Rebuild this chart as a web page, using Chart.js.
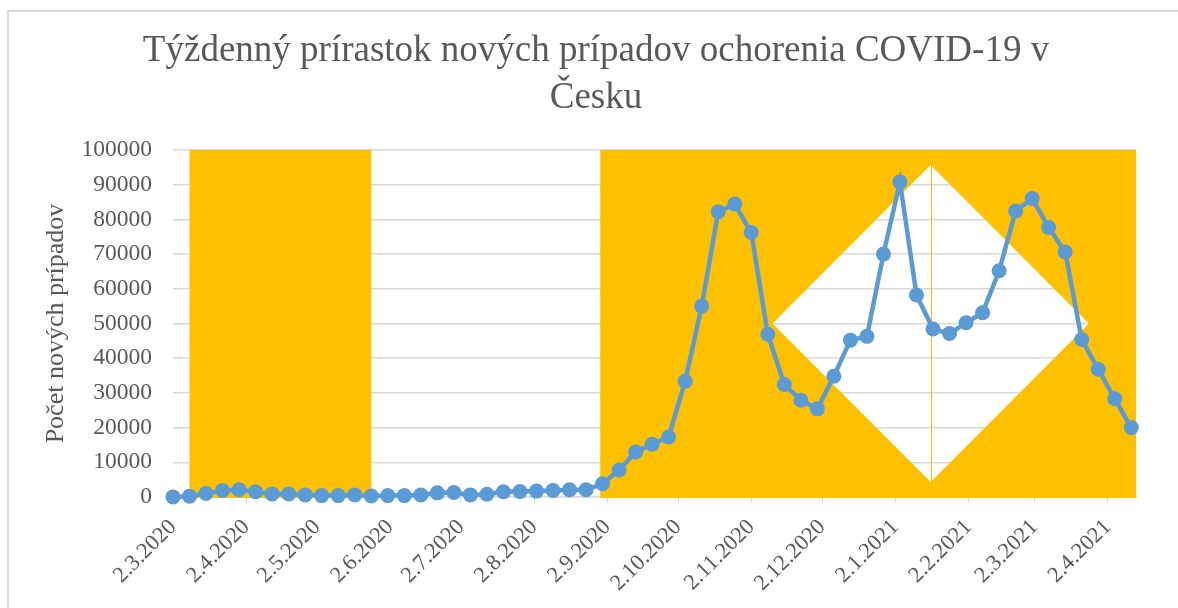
<!DOCTYPE html>
<html>
<head>
<meta charset="utf-8">
<script src="https://cdn.jsdelivr.net/npm/chart.js@4.4.1/dist/chart.umd.min.js"></script>
<style>
  html, body { margin: 0; padding: 0; background: #fff; overflow: hidden; }
  #frame { position: absolute; left: 7px; top: 10px; width: 1300px; height: 700px; border: 2px solid #d9d9d9; }
  #graf { position: absolute; left: 0; top: 0; }
</style>
</head>
<body>
<div id="frame"></div>
<canvas id="graf" width="1178" height="608"></canvas>
<script>
// týždne (pondelky) a počty nových prípadov
const weeks = [
  "2.3.2020", "9.3.2020", "16.3.2020", "23.3.2020", "30.3.2020", "6.4.2020", "13.4.2020", "20.4.2020",
  "27.4.2020", "4.5.2020", "11.5.2020", "18.5.2020", "25.5.2020", "1.6.2020", "8.6.2020", "15.6.2020",
  "22.6.2020", "29.6.2020", "6.7.2020", "13.7.2020", "20.7.2020", "27.7.2020", "3.8.2020", "10.8.2020",
  "17.8.2020", "24.8.2020", "31.8.2020", "7.9.2020", "14.9.2020", "21.9.2020", "28.9.2020", "5.10.2020",
  "12.10.2020", "19.10.2020", "26.10.2020", "2.11.2020", "9.11.2020", "16.11.2020", "23.11.2020", "30.11.2020",
  "7.12.2020", "14.12.2020", "21.12.2020", "28.12.2020", "4.1.2021", "11.1.2021", "18.1.2021", "25.1.2021",
  "1.2.2021", "8.2.2021", "15.2.2021", "22.2.2021", "1.3.2021", "8.3.2021", "15.3.2021", "22.3.2021",
  "29.3.2021", "5.4.2021", "12.4.2021"
];
const cases = [
  30, 250, 1000, 1900, 2100, 1500, 900, 900,
  600, 400, 400, 600, 300, 400, 400, 600,
  1200, 1300, 600, 800, 1500, 1600, 1700, 1900,
  2100, 2100, 3800, 7800, 13000, 15200, 17300, 33400,
  55000, 82200, 84400, 76200, 46900, 32400, 27900, 25400,
  34800, 45200, 46300, 70000, 90800, 58200, 48400, 47100,
  50200, 53100, 65200, 82400, 86000, 77700, 70600, 45400,
  36800, 28300, 20000
];
const monthTicks = [
  "2.3.2020", "2.4.2020", "2.5.2020", "2.6.2020", "2.7.2020", "2.8.2020", "2.9.2020",
  "2.10.2020", "2.11.2020", "2.12.2020", "2.1.2021", "2.2.2021", "2.3.2021", "2.4.2021"
];
const yTicks = [0, 10000, 20000, 30000, 40000, 50000, 60000, 70000, 80000, 90000, 100000];

// podfarbené obdobia (v dátumoch) a biely kosoštvorec
const shadedPeriods = [["9.3.2020", "25.5.2020"], ["30.8.2020", "14.4.2021"]];
const diamond = { center: "17.1.2021", halfDays: 67, mid: 50000, half: 45700 };

const dayOf = s => {
  const [d, m, y] = s.split(".").map(Number);
  return Math.round((Date.UTC(y, m - 1, d) - Date.UTC(2020, 2, 2)) / 86400000);
};
const points = weeks.map((w, i) => ({ x: dayOf(w), y: cases[i] }));
const tickDays = monthTicks.map(dayOf);
const xMax = dayOf("14.4.2021");

const textColor = "#595959";
const gridColor = "#d9d9d9";
const serif = "'Liberation Serif', 'Times New Roman', serif";

const background = {
  id: "background",
  beforeDatasetsDraw(chart) {
    const { ctx, chartArea: a, scales: { x, y } } = chart;
    ctx.save();
    ctx.beginPath();
    shadedPeriods.forEach(([s, e]) => {
      const x1 = x.getPixelForValue(dayOf(s));
      const x2 = x.getPixelForValue(Math.min(dayOf(e), xMax));
      ctx.rect(x1, a.top, x2 - x1, a.bottom - a.top + 1);
    });
    const cx = x.getPixelForValue(dayOf(diamond.center));
    const l = x.getPixelForValue(dayOf(diamond.center) - diamond.halfDays);
    const r = x.getPixelForValue(dayOf(diamond.center) + diamond.halfDays);
    const cy = y.getPixelForValue(diamond.mid);
    const t = y.getPixelForValue(diamond.mid + diamond.half);
    const b = y.getPixelForValue(diamond.mid - diamond.half);
    ctx.moveTo(cx, t);
    ctx.lineTo(r, cy);
    ctx.lineTo(cx, b);
    ctx.lineTo(l, cy);
    ctx.closePath();
    ctx.fillStyle = "#ffc000";
    ctx.fill("evenodd");
    ctx.beginPath();
    ctx.moveTo(Math.round(cx) + 0.5, t);
    ctx.lineTo(Math.round(cx) + 0.5, b);
    ctx.strokeStyle = "#ffc000";
    ctx.lineWidth = 1;
    ctx.stroke();
    ctx.restore();
  }
};

new Chart(document.getElementById("graf").getContext("2d"), {
  type: "line",
  data: {
    datasets: [{
      label: "Nové prípady",
      data: points,
      borderColor: "#5b9bd5",
      backgroundColor: "#5b9bd5",
      borderWidth: 4.5,
      pointRadius: 7.5,
      pointBorderWidth: 0,
      pointBackgroundColor: "#5b9bd5",
      tension: 0,
      clip: false
    }]
  },
  options: {
    responsive: false,
    animation: false,
    layout: { padding: { left: 14, right: 0, top: 0, bottom: 0 } },
    plugins: {
      legend: { display: false },
      tooltip: { enabled: false },
      title: {
        display: true,
        text: ["Týždenný prírastok nových prípadov ochorenia COVID-19 v", "Česku"],
        color: textColor,
        font: { family: serif, size: 37, weight: "normal", lineHeight: 1.27 },
        padding: { top: 28, bottom: 28 }
      }
    },
    scales: {
      x: {
        type: "linear",
        min: 0,
        max: xMax,
        afterBuildTicks: s => { s.ticks = tickDays.map(v => ({ value: v })); },
        afterFit: s => { s.height = 111; },
        ticks: {
          autoSkip: false,
          maxRotation: 45,
          minRotation: 45,
          color: textColor,
          font: { family: serif, size: 22.5 },
          padding: 11,
          callback: (v, i) => monthTicks[i]
        },
        grid: { drawOnChartArea: false, drawTicks: true, tickLength: 6, color: gridColor },
        border: { display: true, color: gridColor, width: 1.5 }
      },
      y: {
        min: 0,
        max: 100000,
        afterBuildTicks: s => { s.ticks = yTicks.map(v => ({ value: v })); },
        afterFit: s => { s.width = 159; },
        ticks: {
          color: textColor,
          font: { family: serif, size: 23.5 },
          padding: 21,
          callback: v => String(v)
        },
        grid: { color: gridColor, lineWidth: 1.5, drawTicks: false },
        border: { display: false },
        title: {
          display: true,
          text: "Počet nových prípadov",
          color: textColor,
          font: { family: serif, size: 26 },
          padding: { top: 27, bottom: 10 }
        }
      },
      // prázdne miesto vpravo od grafu
      pravy: {
        position: "right",
        min: 0,
        max: 1,
        afterFit: s => { s.width = 42; },
        ticks: { display: false },
        grid: { display: false },
        border: { display: false }
      }
    }
  },
  plugins: [background]
});
</script>
</body>
</html>
